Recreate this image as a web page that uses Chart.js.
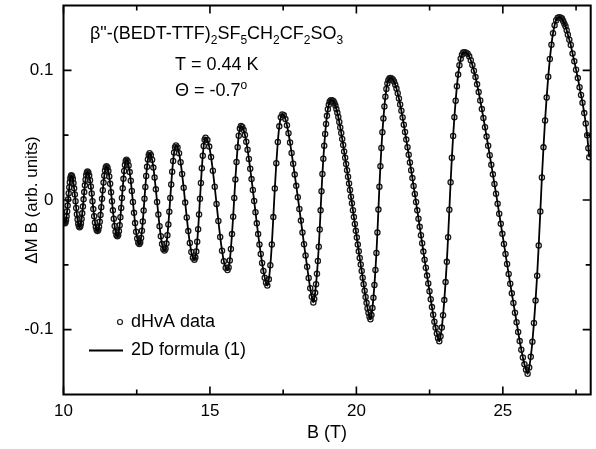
<!DOCTYPE html>
<html><head><meta charset="utf-8">
<script src="https://cdn.jsdelivr.net/npm/chart.js@4.4.1/dist/chart.umd.min.js"></script>
<style>html,body{margin:0;padding:0;background:#fff;}</style>
</head><body>
<canvas id="c" width="596" height="449"></canvas>
<script>
// Magnetic field B (T) of the dHvA data points (one line per half oscillation)
const fieldT = [
10.00,10.025,10.05,
10.068,10.087,10.105,10.123,10.142,10.16,10.178,10.197,10.215,10.233,10.252,10.27,
10.293,10.317,10.34,10.363,10.387,10.41,10.433,10.457,10.48,10.503,10.527,10.55,
10.573,10.595,10.618,10.64,10.663,10.685,10.708,10.73,10.753,10.775,10.798,10.82,
10.848,10.877,10.905,10.933,10.962,10.99,11.018,11.047,11.075,11.103,11.132,11.16,
11.186,11.212,11.238,11.263,11.289,11.315,11.341,11.367,11.392,11.418,11.444,11.47,
11.501,11.532,11.562,11.593,11.624,11.655,11.686,11.717,11.747,11.778,11.809,11.84,
11.866,11.892,11.918,11.943,11.969,11.995,12.021,12.047,12.072,12.098,12.124,12.15,
12.187,12.223,12.26,12.297,12.333,12.37,12.407,12.443,12.48,12.517,12.553,12.59,
12.619,12.648,12.678,12.707,12.736,12.765,12.794,12.823,12.853,12.882,12.911,12.94,
12.983,13.025,13.068,13.11,13.153,13.195,13.238,13.28,13.323,13.365,13.408,13.45,
13.483,13.515,13.548,13.58,13.613,13.645,13.678,13.71,13.743,13.775,13.808,13.84,
13.893,13.945,13.998,14.05,14.103,14.155,14.208,14.26,14.313,14.365,14.418,14.47,
14.502,14.533,14.565,14.597,14.628,14.66,14.692,14.723,14.755,14.787,14.818,14.85,
14.913,14.975,15.038,15.10,15.163,15.225,15.288,15.35,15.413,15.475,15.538,15.6,
15.638,15.677,15.715,15.753,15.792,15.83,15.868,15.907,15.945,15.983,16.022,16.06,
16.105,16.15,16.195,16.24,16.285,16.33,16.375,16.42,16.465,16.51,16.555,16.60,16.645,16.69,16.735,16.78,16.825,16.87,16.915,16.96,
17.011,17.062,17.113,17.164,17.215,17.266,17.317,17.368,17.419,17.47,
17.523,17.576,17.629,17.682,17.735,17.788,17.841,17.894,17.947,18.0,18.053,18.106,18.159,18.212,18.265,18.318,18.371,18.424,18.477,18.53,
18.561,18.592,18.623,18.654,18.685,18.716,18.747,18.778,18.809,18.84,18.871,18.902,18.933,18.964,18.995,19.026,19.057,19.088,19.119,19.15,
19.183,19.217,19.25,19.283,19.316,19.35,19.383,19.416,19.449,19.483,19.516,19.549,19.582,19.616,19.649,19.682,19.715,19.749,19.782,19.815,
19.848,19.882,19.915,19.948,19.981,20.015,20.048,20.081,20.114,20.148,20.181,20.214,20.247,20.281,20.314,20.347,20.38,20.413,20.447,20.48,
20.514,20.548,20.582,20.616,20.65,20.684,20.718,20.752,20.786,20.82,20.854,20.888,20.922,20.956,20.99,21.024,21.058,21.092,21.126,21.16,
21.202,21.244,21.285,21.327,21.369,21.411,21.452,21.494,21.536,21.578,21.619,21.661,21.703,21.745,21.786,21.828,21.87,21.912,21.953,21.995,
22.037,22.079,22.12,22.162,22.204,22.246,22.287,22.329,22.371,22.413,22.454,22.496,22.538,22.58,22.621,22.663,22.705,22.747,22.788,22.83,
22.873,22.916,22.959,23.002,23.045,23.088,23.131,23.174,23.217,23.26,23.303,23.346,23.389,23.432,23.475,23.518,23.561,23.604,23.647,23.69,
23.744,23.798,23.852,23.906,23.96,24.013,24.067,24.121,24.175,24.229,24.283,24.337,24.391,24.445,24.499,24.552,24.606,24.66,24.714,24.768,
24.822,24.876,24.93,24.984,25.038,25.091,25.145,25.199,25.253,25.307,25.361,25.415,25.469,25.523,25.576,25.63,25.684,25.738,25.792,25.846,
25.9,25.954,26.009,26.063,26.117,26.171,26.225,26.28,26.334,26.388,26.442,26.496,26.55,26.605,26.659,26.713,26.767,26.822,26.876,26.93,
26.98,27.02,27.06,27.10,27.14,27.18,27.22,27.27,27.32,27.38,27.44,27.50,27.56,27.62,27.67,27.72,27.78,27.83,27.88,27.92,27.95
];
// Delta M * B (arb. units), same order as fieldT
const deltaMB = [
-0.015,-0.017,-0.018,
-0.0174,-0.0155,-0.0126,-0.0088,-0.0043,0.0005,0.0053,0.0098,0.0136,0.0165,0.0184,0.019,
0.0183,0.0163,0.0131,0.009,0.0042,-0.001,-0.0062,-0.011,-0.0151,-0.0183,-0.0203,-0.021,
-0.0203,-0.0181,-0.0147,-0.0103,-0.0051,0.0005,0.0061,0.0113,0.0157,0.0191,0.0213,0.022,
0.0212,0.0189,0.0153,0.0105,0.005,-0.001,-0.007,-0.0125,-0.0173,-0.0209,-0.0232,-0.024,
-0.0232,-0.0207,-0.0167,-0.0115,-0.0055,0.001,0.0075,0.0135,0.0187,0.0227,0.0252,0.026,
0.0251,0.0224,0.0181,0.0125,0.006,-0.001,-0.008,-0.0145,-0.0201,-0.0244,-0.0271,-0.028,
-0.027,-0.024,-0.0194,-0.0133,-0.0061,0.0015,0.0091,0.0163,0.0224,0.027,0.030,0.031,
0.0299,0.0266,0.0215,0.0148,0.0069,-0.0015,-0.0099,-0.0178,-0.0245,-0.0296,-0.0329,-0.034,
-0.0328,-0.0293,-0.0237,-0.0165,-0.0081,0.001,0.0101,0.0185,0.0257,0.0313,0.0348,0.036,
0.0347,0.031,0.025,0.0173,0.0082,-0.0015,-0.0112,-0.0203,-0.028,-0.034,-0.0377,-0.039,
-0.0376,-0.0336,-0.0271,-0.0188,-0.009,0.0015,0.012,0.0218,0.0301,0.0366,0.0406,0.042,
0.0405,0.0361,0.0291,0.020,0.0094,-0.002,-0.0134,-0.024,-0.0331,-0.0401,-0.0445,-0.046,
-0.0444,-0.0397,-0.0322,-0.0225,-0.0112,0.001,0.0132,0.0245,0.0342,0.0417,0.0464,0.048,
0.0463,0.0412,0.0331,0.0225,0.0102,-0.003,-0.0162,-0.0285,-0.0391,-0.0472,-0.0523,-0.054,
-0.0521,-0.0466,-0.0377,-0.0263,-0.0129,0.0015,0.0159,0.0293,0.0407,0.0496,0.0551,0.057,
0.0563,0.0539,0.0501,0.045,0.0388,0.0317,0.0241,0.0161,0.0077,-0.0008,-0.0094,-0.018,-0.0263,-0.0343,-0.0416,-0.0485,-0.0547,-0.0599,-0.0638,-0.066,
-0.0612,-0.0503,-0.0343,-0.0132,0.0089,0.0284,0.0447,0.0568,0.0638,0.066,
0.0653,0.0624,0.0577,0.0515,0.0443,0.0363,0.0279,0.0196,0.0109,0.0022,-0.0069,-0.0159,-0.025,-0.0341,-0.0428,-0.0515,-0.0602,-0.0681,-0.0747,-0.079,
-0.0763,-0.0716,-0.065,-0.0568,-0.047,-0.0361,-0.0228,-0.008,0.0068,0.0201,0.0318,0.0419,0.0509,0.0587,0.0649,0.07,0.0735,0.0757,0.0768,0.077,
0.0767,0.0762,0.0748,0.0728,0.0702,0.0673,0.064,0.0601,0.056,0.0517,0.0471,0.0424,0.0375,0.0326,0.0278,0.0229,0.0179,0.0128,0.0077,0.0026,
-0.0026,-0.0079,-0.0132,-0.0185,-0.0238,-0.029,-0.0344,-0.0396,-0.0447,-0.0498,-0.0548,-0.0599,-0.065,-0.07,-0.0748,-0.0793,-0.0834,-0.0869,-0.09,-0.092,
-0.0887,-0.0832,-0.0753,-0.0655,-0.0539,-0.0409,-0.025,-0.0074,0.0103,0.0261,0.0401,0.0522,0.0628,0.0721,0.0796,0.0856,0.0898,0.0924,0.0937,0.094,
0.0937,0.093,0.0914,0.0889,0.0859,0.0823,0.0783,0.0737,0.0688,0.0636,0.0581,0.0524,0.0466,0.0407,0.0349,0.029,0.023,0.0169,0.0108,0.0047,
-0.0016,-0.008,-0.0144,-0.0207,-0.0271,-0.0334,-0.0398,-0.0461,-0.0522,-0.0583,-0.0643,-0.0704,-0.0765,-0.0826,-0.0884,-0.0938,-0.0986,-0.1029,-0.1066,-0.109,
-0.1051,-0.0984,-0.0889,-0.0772,-0.0633,-0.0477,-0.0287,-0.0075,0.0137,0.0326,0.0493,0.0638,0.0766,0.0878,0.0967,0.104,0.109,0.1121,0.1137,0.114,
0.1136,0.1128,0.1108,0.1078,0.1041,0.0997,0.0948,0.0892,0.0832,0.0768,0.0701,0.0632,0.0561,0.0489,0.0418,0.0346,0.0272,0.0198,0.0123,0.0049,
-0.0028,-0.0106,-0.0184,-0.0261,-0.0339,-0.0416,-0.0494,-0.0571,-0.0646,-0.072,-0.0794,-0.0869,-0.0943,-0.1018,-0.1088,-0.1154,-0.1214,-0.1266,-0.131,-0.134,
-0.1292,-0.1209,-0.1093,-0.0948,-0.0776,-0.0584,-0.035,-0.0089,0.0173,0.0406,0.0613,0.0791,0.095,0.1087,0.1197,0.1286,0.1348,0.1387,0.1406,0.141,
0.1405,0.140,0.138,0.136,0.134,0.131,0.1275,0.1236,0.1195,0.113,0.107,0.1005,0.094,0.087,0.081,0.075,0.067,0.059,0.050,0.040,0.033
];
const xTickValues = [10, 15, 20, 25];
const xMinorTicks = [12.5, 17.5, 22.5, 27.5];
const yTickValues = [-0.1, 0, 0.1];
const yMinorTicks = [-0.05, 0.05];
const xRange = [10, 28];
const yRange = [-0.15, 0.15];

if (fieldT.length !== deltaMB.length) console.error('length mismatch', fieldT.length, deltaMB.length);

const FONT = '"Liberation Sans", Arial, Helvetica, sans-serif';
const points = fieldT.map((b, i) => ({x: b, y: deltaMB[i]}));

const framePlugin = {
  id: 'frame',
  afterDatasetsDraw(chart) {
    const {ctx, chartArea: a, scales: {x, y}} = chart;
    ctx.save();
    ctx.strokeStyle = '#000';
    ctx.lineWidth = 2;
    ctx.strokeRect(a.left, a.top, a.right - a.left, a.bottom - a.top);
    ctx.lineWidth = 1.6;
    ctx.beginPath();
    const tx = (v, len) => {
      const px = x.getPixelForValue(v);
      ctx.moveTo(px, a.bottom); ctx.lineTo(px, a.bottom - len);
      ctx.moveTo(px, a.top); ctx.lineTo(px, a.top + len);
    };
    const ty = (v, len) => {
      const py = y.getPixelForValue(v);
      ctx.moveTo(a.left, py); ctx.lineTo(a.left + len, py);
      ctx.moveTo(a.right, py); ctx.lineTo(a.right - len, py);
    };
    xTickValues.forEach(v => tx(v, 8));
    xMinorTicks.forEach(v => tx(v, 5));
    yTickValues.forEach(v => ty(v, 8));
    yMinorTicks.forEach(v => ty(v, 5));
    ctx.stroke();

    ctx.fillStyle = '#000';
    ctx.font = '18px ' + FONT;
    ctx.textAlign = 'center';
    ctx.textBaseline = 'alphabetic';
    ctx.fillText('B (T)', (a.left + a.right) / 2, 438);
    ctx.save();
    ctx.translate(37, (a.top + a.bottom) / 2);
    ctx.rotate(-Math.PI / 2);
    ctx.font = '17px ' + FONT;
    ctx.fillText('\u0394M B (arb. units)', 0, 0);
    ctx.restore();

    ctx.textAlign = 'left';
    const rich = (x0, y0, parts) => {
      let xx = x0;
      for (const [t, k] of parts) {
        ctx.font = (k === 'n' ? '18px ' : '12px ') + FONT;
        const dy = k === 'sub' ? 5 : (k === 'sup' ? -7 : 0);
        ctx.fillText(t, xx, y0 + dy);
        xx += ctx.measureText(t).width;
      }
    };
    rich(90, 39, [['\u03B2"-(BEDT-TTF)', 'n'], ['2', 'sub'], ['SF', 'n'], ['5', 'sub'], ['CH', 'n'], ['2', 'sub'],
                  ['CF', 'n'], ['2', 'sub'], ['SO', 'n'], ['3', 'sub']]);
    rich(175, 70, [['T = 0.44 K', 'n']]);
    rich(175, 96, [['\u0398 = -0.7', 'n'], ['o', 'sup']]);

    ctx.font = '18px ' + FONT;
    ctx.fillText('dHvA data', 131, 327);
    ctx.fillText('2D formula (1)', 131, 355);
    ctx.beginPath();
    ctx.lineWidth = 1.2;
    ctx.strokeStyle = '#1a1a1a';
    ctx.arc(120, 322, 2.5, 0, Math.PI * 2);
    ctx.stroke();
    ctx.beginPath();
    ctx.strokeStyle = '#000';
    ctx.lineWidth = 2;
    ctx.moveTo(89, 350.5); ctx.lineTo(123, 350.5);
    ctx.stroke();
    ctx.restore();
  }
};

new Chart(document.getElementById('c'), {
  type: 'scatter',
  data: {
    datasets: [
      {
        label: '2D formula (1)',
        data: points,
        showLine: true,
        pointRadius: 0,
        borderColor: '#000',
        borderWidth: 1.8,
        cubicInterpolationMode: 'monotone',
        order: 0
      },
      {
        label: 'dHvA data',
        data: points,
        showLine: false,
        pointRadius: 2.6,
        pointBorderWidth: 1.3,
        pointBorderColor: '#1a1a1a',
        pointBackgroundColor: 'rgba(255,255,255,0)',
        order: 1
      }
    ]
  },
  options: {
    responsive: false,
    animation: false,
    events: [],
    devicePixelRatio: 1,
    layout: {padding: {top: 5.5, right: 5, left: 0, bottom: 0}},
    plugins: {legend: {display: false}, tooltip: {enabled: false}},
    scales: {
      x: {
        type: 'linear', min: xRange[0], max: xRange[1],
        grid: {display: false, drawTicks: false}, border: {display: false},
        afterBuildTicks: s => { s.ticks = xTickValues.map(v => ({value: v})); },
        afterFit: s => { s.height = 54.5; s.paddingLeft = 0; s.paddingRight = 0; },
        ticks: {color: '#000', padding: 7, maxRotation: 0, font: {size: 17, family: FONT}, callback: v => String(v)}
      },
      y: {
        type: 'linear', min: yRange[0], max: yRange[1],
        grid: {display: false, drawTicks: false}, border: {display: false},
        afterBuildTicks: s => { s.ticks = yTickValues.map(v => ({value: v})); },
        afterFit: s => { s.width = 63.5; s.paddingTop = 0; s.paddingBottom = 0; },
        ticks: {color: '#000', padding: 10, font: {size: 17, family: FONT},
                callback: v => (Math.abs(v) < 1e-9 ? '0' : String(Math.round(v * 100) / 100))}
      }
    }
  },
  plugins: [framePlugin]
});
</script>
</body></html>
